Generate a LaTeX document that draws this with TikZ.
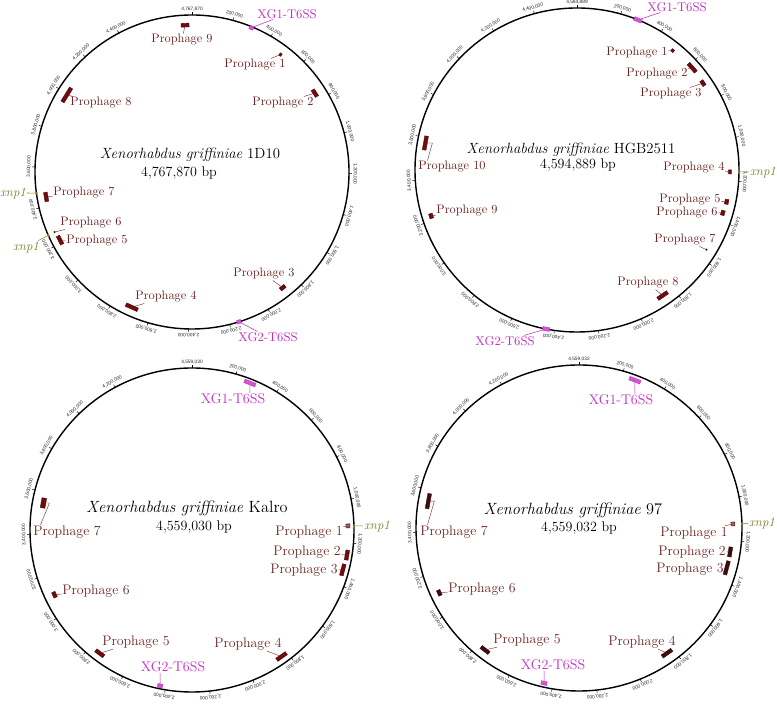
\documentclass[tikz,border=0pt]{standalone}
\usepackage{fontspec}
\newfontfamily\tickfont{Liberation Sans}
\usetikzlibrary{calc}
\definecolor{phage}{RGB}{110,36,36}
\definecolor{phagebar}{RGB}{112,12,12}
\definecolor{phagedark}{RGB}{58,14,14}
\definecolor{tsix}{RGB}{196,44,196}
\definecolor{xnp}{RGB}{124,124,34}

\begin{document}
\begin{tikzpicture}[x=0.03cm, y=0.03cm, line width=0.4pt,
  genome/.style={line width=1.2pt},
  ticklab/.style={font=\tickfont\fontsize{4.1}{5}\selectfont, anchor=south, inner sep=0.8pt, text=black!85},
  title/.style={font=\fontsize{12.6}{14}\selectfont},
  size/.style={font=\fontsize{12}{14}\selectfont},
  ring/.style n args={3}{at={($(#1)+(#2:#3)$)}, rotate=#2-90},
  pbar/.style={fill=phagebar, draw=phagebar!60!black, line width=0.3pt, inner sep=0pt, minimum height=3.2pt},
  tbar/.style={fill=tsix!80!white, draw=tsix, line width=0.3pt, inner sep=0pt, minimum height=3.2pt},
  xbar/.style={fill=xnp, inner sep=0pt, minimum width=2.5pt, minimum height=1.6pt},
  plab/.style={text=phage, inner sep=0.6pt, font=\fontsize{10.5}{12}\selectfont},
  tlab/.style={text=tsix, inner sep=0.6pt, font=\fontsize{10.8}{12}\selectfont},
  xlab/.style={text=xnp, inner sep=0.6pt, font=\itshape\fontsize{11}{12}\selectfont},
  pline/.style={draw=phage, line width=0.35pt},
  tline/.style={draw=tsix, line width=0.45pt},
  xline/.style={draw=xnp, line width=0.45pt}]
\useasboundingbox (0,0) rectangle (777,704);
\coordinate (m1) at (192,532);
\coordinate (m2) at (577,534);
\coordinate (m3) at (192,174);
\coordinate (m4) at (579,176);

% genome rings with position ticks
\foreach \m/\tot/\rad/\nt/\endlab in {m1/4.76787/157/22/{4,767,870}, m2/4.594889/162/22/{4,594,889},
    m3/4.55903/162/21/{4,559,030}, m4/4.559032/163/21/{4,559,032}} {
  \draw[genome] (\m) circle (\rad);
  \draw (\m) ++(90:\rad) -- ++(90:3) node[ticklab] (\m-0) {\endlab};
  \foreach \k in {1,...,\nt} {
    \pgfmathsetmacro{\ang}{90-72*\k/\tot}
    \pgfmathtruncatemacro{\kb}{200*\k}
    \pgfmathtruncatemacro{\mi}{(\kb+1)/1000}
    \pgfmathtruncatemacro{\mr}{\kb-1000*\mi}
    \draw (\m) ++(\ang:\rad) -- ++(\ang:3)
      node[ticklab, rotate=\ang-90] (\m-\k) {\ifnum\mi>0 \mi,\ifnum\mr=0 000\else\mr\fi\else\kb\fi,000};
  }
}

% 1D10
\node[title] (an) at (190,549) {\textit{Xenorhabdus griffiniae} 1D10};
\node[size] (al) at (179,531) {4,767,870 bp};
\node[tbar, minimum width=3.4pt, ring={m1}{67.6}{156}] (ag1) {};
\node[tlab] (ag1t) at (287,690) {XG1-T6SS};
\node[pbar, minimum width=6.8pt, ring={m1}{92.7}{147}] (a9) {};
\node[plab] (a9t) at (182,664) {Prophage 9};
\node[pbar, minimum width=2pt, minimum height=2.4pt, ring={m1}{53}{147}] (a1) {};
\node[plab] (a1t) at (255,639) {Prophage 1};
\node[pbar, minimum width=6.8pt, ring={m1}{32.7}{146}] (a2) {};
\node[plab] (a2t) at (283,601) {Prophage 2};
\node[pbar, minimum width=14pt, ring={m1}{148.4}{147}] (a8) {};
\node[plab] (a8t) at (101,601) {Prophage 8};
\node[pbar, minimum width=8pt, ring={m1}{189.7}{148}] (a7) {};
\node[plab] (a7t) at (84,511) {Prophage 7};
\node[pbar, minimum width=1pt, minimum height=1pt, ring={m1}{203.6}{150}] (a6) {};
\node[plab] (a6t) at (91,481) {Prophage 6};
\node[pbar, minimum width=8pt, ring={m1}{207.3}{148.5}] (a5) {};
\node[plab] (a5t) at (97,463) {Prophage 5};
\node[pbar, minimum width=5pt, ring={m1}{-51.9}{147}] (a3) {};
\node[plab] (a3t) at (264,430) {Prophage 3};
\node[pbar, minimum width=11pt, ring={m1}{246}{148}] (a4) {};
\node[plab] (a4t) at (166,407) {Prophage 4};
\node[tbar, minimum width=3.4pt, ring={m1}{-72.6}{157}] (ag2) {};
\node[tlab] (ag2t) at (268,367) {XG2-T6SS};
\node[xbar, ring={m1}{187.7}{157}] (ax1) {};
\node[xlab] (ax1t) at (13,511) {xnp1};
\node[xbar, ring={m1}{203.8}{157}] (ax2) {};
\node[xlab] (ax2t) at (26,457) {xnp1};

% HGB2511
\node[title] (bn) at (571,554) {\textit{Xenorhabdus griffiniae} HGB2511};
\node[size] (bl) at (578,539) {4,594,889 bp};
\node[tbar, minimum width=6.8pt, ring={m2}{67.9}{162}] (bg1) {};
\node[tlab] (bg1t) at (677,697) {XG1-T6SS};
\node[pbar, minimum width=2.5pt, minimum height=2.5pt, ring={m2}{51.3}{153}] (b1) {};
\node[plab] (b1t) at (637,651) {Prophage 1};
\node[pbar, minimum width=9.5pt, ring={m2}{41.6}{154}] (b2) {};
\node[plab] (b2t) at (657,630) {Prophage 2};
\node[pbar, minimum width=5pt, ring={m2}{34.6}{153}] (b3) {};
\node[plab] (b3t) at (671,610) {Prophage 3};
\node[pbar, minimum width=3.4pt, minimum height=2.6pt, ring={m2}{-0.7}{153}] (b4) {};
\node[plab] (b4t) at (694,536) {Prophage 4};
\node[pbar, minimum width=4.2pt, ring={m2}{-12}{153}] (b5) {};
\node[plab] (b5t) at (690,504) {Prophage 5};
\node[pbar, minimum width=4.2pt, ring={m2}{-16.4}{152}] (b6) {};
\node[plab] (b6t) at (687,491) {Prophage 6};
\node[pbar, minimum width=1pt, minimum height=1pt, ring={m2}{-31.6}{152}] (b7) {};
\node[plab] (b7t) at (685,464) {Prophage 7};
\node[pbar, minimum width=10pt, ring={m2}{-55.7}{152}] (b8) {};
\node[plab] (b8t) at (648,421) {Prophage 8};
\node[pbar, minimum width=4.2pt, ring={m2}{197.5}{153}] (b9) {};
\node[plab] (b9t) at (467,493) {Prophage 9};
\node[pbar, minimum width=12pt, ring={m2}{169.9}{154}] (b10) {};
\node[plab] (b10t) at (452,537) {Prophage 10};
\node[tbar, minimum width=6pt, ring={m2}{259}{162}] (bg2) {};
\node[tlab] (bg2t) at (505,363) {XG2-T6SS};
\node[xbar, ring={m2}{-0.7}{162}] (bx) {};
\node[xlab] (bxt) at (763,532) {xnp1};

\begin{scope}[plab/.append style={font=\fontsize{11.8}{13}\selectfont},
  tlab/.append style={font=\fontsize{12}{13}\selectfont},
  title/.append style={font=\fontsize{13.9}{15}\selectfont}]
% Kalro
\node[title] (cn) at (187,196) {\textit{Xenorhabdus griffiniae} Kalro};
\node[size] (cl) at (194,177) {4,559,030 bp};
\node[tbar, minimum width=10pt, ring={m3}{68.5}{158}] (cg1) {};
\node[tlab] (cg1t) at (233,305) {XG1-T6SS};
\node[pbar, minimum width=8.5pt, minimum height=4pt, ring={m3}{169.7}{151}] (c7) {};
\node[plab] (c7t) at (67,172) {Prophage 7};
\node[pbar, fill=phage!75!white, minimum width=3.4pt, minimum height=3.4pt, ring={m3}{1.5}{156}] (c1) {};
\node[plab] (c1t) at (309,172) {Prophage 1};
\node[pbar, minimum width=8.5pt, ring={m3}{-9.2}{157}] (c2) {};
\node[plab] (c2t) at (307,152) {Prophage 2};
\node[pbar, minimum width=10pt, ring={m3}{-14.8}{156}] (c3) {};
\node[plab] (c3t) at (304,134) {Prophage 3};
\node[pbar, minimum width=5pt, ring={m3}{205.2}{152}] (c6) {};
\node[plab] (c6t) at (96,113) {Prophage 6};
\node[pbar, minimum width=8.5pt, ring={m3}{233.2}{154}] (c5) {};
\node[plab] (c5t) at (136,62) {Prophage 5};
\node[pbar, minimum width=10pt, ring={m3}{-54.7}{155}] (c4) {};
\node[plab] (c4t) at (248,60) {Prophage 4};
\node[tbar, minimum width=4.2pt, ring={m3}{258.4}{159}] (cg2) {};
\node[tlab] (cg2t) at (173,37) {XG2-T6SS};
\node[xbar, ring={m3}{1.5}{162}] (cx) {};
\node[xlab] (cxt) at (377,178) {xnp1};

% 97
\begin{scope}[pbar/.append style={fill=phagedark}]
\node[title] (dn) at (573,194) {\textit{Xenorhabdus griffiniae} 97};
\node[size] (dl) at (579,176) {4,559,032 bp};
\node[tbar, minimum width=10pt, ring={m4}{69.3}{158}] (dg1) {};
\node[tlab] (dg1t) at (621,304) {XG1-T6SS};
\node[pbar, minimum width=13pt, ring={m4}{169.9}{153}] (d7) {};
\node[plab] (d7t) at (454,172) {Prophage 7};
\node[pbar, fill=phage!75!white, minimum width=3.4pt, minimum height=3.4pt, ring={m4}{1.5}{154}] (d1) {};
\node[plab] (d1t) at (694,171) {Prophage 1};
\node[pbar, minimum width=8.5pt, ring={m4}{-9}{153}] (d2) {};
\node[plab] (d2t) at (692,152) {Prophage 2};
\node[pbar, minimum width=12pt, ring={m4}{-15.1}{153}] (d3) {};
\node[plab] (d3t) at (690,135) {Prophage 3};
\node[pbar, minimum width=5pt, ring={m4}{204.9}{154}] (d6) {};
\node[plab] (d6t) at (482,115) {Prophage 6};
\node[pbar, minimum width=8.5pt, ring={m4}{232.4}{154}] (d5) {};
\node[plab] (d5t) at (527,64) {Prophage 5};
\node[pbar, minimum width=10pt, ring={m4}{-54.9}{153}] (d4) {};
\node[plab] (d4t) at (642,62) {Prophage 4};
\node[tbar, minimum width=5pt, ring={m4}{257.3}{159}] (dg2) {};
\node[tlab] (dg2t) at (553,39) {XG2-T6SS};
\node[xbar, ring={m4}{1.5}{163}] (dx) {};
\node[xlab] (dxt) at (762,181) {xnp1};
\end{scope}
\end{scope}

% connectors
\foreach \from/\to in {a9/a9t, a1/a1t, a2/a2t, a8/a8t, a7/a7t, a6/a6t, a5/a5t, a3/a3t, a4/a4t,
    b1/b1t, b2/b2t, b3/b3t, b4/b4t, b5/b5t, b6/b6t, b7/b7t, b8/b8t, b9/b9t,
    c1/c1t, c2/c2t, c3/c3t, c6/c6t, c5/c5t, c4/c4t,
    d1/d1t, d2/d2t, d3/d3t, d6/d6t, d5/d5t, d4/d4t}
  \draw[pline] (\from) -- (\to);
\draw[pline] (b10) -- ++(7,0) -- ($(b10t.north west)+(10,0)$);
\draw[pline] (c7) -- ++(6,0) -- ($(c7t.north west)+(8,0)$);
\draw[pline] (d7) -- ++(6,0) -- ($(d7t.north west)+(8,0)$);
\foreach \from/\to in {ag1/ag1t, ag2/ag2t, bg1/bg1t, bg2/bg2t}
  \draw[tline] (\from) -- (\to);
\draw[tline] (cg1) -- (cg1 |- cg1t.north);
\draw[tline] (cg2) -- (cg2 |- cg2t.south);
\draw[tline] (dg1) -- (dg1 |- dg1t.north);
\draw[tline] (dg2) -- (dg2 |- dg2t.south);
\foreach \from/\to in {ax1/ax1t, ax2/ax2t, bx/bxt, cx/cxt, dx/dxt}
  \draw[xline] (\from) -- (\to);
\end{tikzpicture}
\end{document}
